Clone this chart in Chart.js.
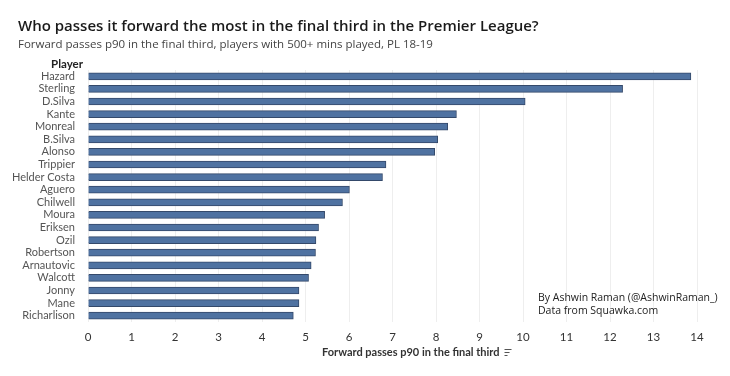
<!DOCTYPE html>
<html>
<head>
    <title>Forward passes p90</title>
    <script src="https://cdn.jsdelivr.net/npm/chart.js"></script>
    <style>
        body { margin: 0; background: #fff; }
        #wrap { width: 730px; height: 376px; }
    </style>
</head>
<body>
    <div id="wrap"><canvas id="myChart"></canvas></div>
    <script>
        const players = ['Hazard', 'Sterling', 'D.Silva', 'Kante', 'Monreal', 'B.Silva', 'Alonso', 'Trippier',
            'Helder Costa', 'Aguero', 'Chilwell', 'Moura', 'Eriksen', 'Ozil', 'Robertson', 'Arnautovic',
            'Walcott', 'Jonny', 'Mane', 'Richarlison'];
        const passesP90 = [13.86, 12.29, 10.05, 8.47, 8.27, 8.04, 7.97, 6.85,
            6.77, 6.01, 5.85, 5.44, 5.30, 5.24, 5.23, 5.13,
            5.07, 4.85, 4.85, 4.72];
        const xTicks = [0, 1, 2, 3, 4, 5, 6, 7, 8, 9, 10, 11, 12, 13, 14];

        const titleText = 'Who passes it forward the most in the final third in the Premier League?';
        const subtitleText = 'Forward passes p90 in the final third, players with 500+ mins played, PL 18-19';
        const axisTitle = 'Forward passes p90 in the final third';
        const credits = ['By Ashwin Raman (@AshwinRaman_)', 'Data from Squawka.com'];

        // titles, "Player" header, axis title with sort icon, credits
        const textPlugin = {
            id: 'texts',
            afterDraw(chart) {
                const ctx = chart.ctx;
                const area = chart.chartArea;
                ctx.save();
                ctx.textBaseline = 'middle';
                ctx.textAlign = 'left';
                ctx.fillStyle = '#1a1a1a';
                ctx.font = '600 15px "Open Sans"';
                ctx.fillText(titleText, 18, 27);
                ctx.fillStyle = '#444';
                ctx.font = '11.5px "Open Sans"';
                ctx.fillText(subtitleText, 18, 45);

                ctx.textAlign = 'right';
                ctx.fillStyle = '#222';
                ctx.font = 'bold 11.5px Lato';
                ctx.fillText('Player', area.left - 5, 64);

                ctx.textAlign = 'left';
                ctx.font = 'bold 11px Lato';
                ctx.fillStyle = '#333';
                const w = ctx.measureText(axisTitle).width;
                const x0 = 322;
                ctx.fillText(axisTitle, x0, 352);
                // sort icon
                ctx.strokeStyle = '#555';
                ctx.lineWidth = 1;
                const ix = x0 + w + 5;
                [[7, 349], [5, 352], [3, 355]].forEach(([len, y]) => {
                    ctx.beginPath();
                    ctx.moveTo(ix, y + 0.5);
                    ctx.lineTo(ix + len, y + 0.5);
                    ctx.stroke();
                });

                ctx.fillStyle = '#222';
                ctx.font = '10.5px "Open Sans"';
                ctx.fillText(credits[0], 538, 298);
                ctx.fillText(credits[1], 538, 311);
                ctx.restore();
            }
        };

        const data = {
            labels: players,
            datasets: [{
                label: 'Forward passes p90',
                data: passesP90,
                backgroundColor: '#4f72a1',
                borderColor: '#34496a',
                borderWidth: 1,
                barThickness: 7
            }]
        };

        const config = {
            type: 'bar',
            data: data,
            options: {
                indexAxis: 'y',
                responsive: true,
                maintainAspectRatio: false,
                animation: false,
                layout: { padding: { top: 70, right: 33, left: 0, bottom: 0 } },
                plugins: {
                    legend: { display: false },
                    tooltip: { enabled: false }
                },
                scales: {
                    x: {
                        min: 0,
                        max: 14,
                        afterBuildTicks: (scale) => { scale.ticks = xTicks.map(v => ({ value: v })); },
                        afterFit: (scale) => { scale.height = 54; },
                        grid: { color: '#eeeeee', drawTicks: false },
                        border: { display: false },
                        ticks: {
                            padding: 8,
                            color: '#333',
                            font: { family: 'Lato', size: 11.5 },
                            maxRotation: 0
                        }
                    },
                    y: {
                        afterFit: (scale) => { scale.width = 88; },
                        grid: { display: false },
                        border: { display: false },
                        ticks: {
                            padding: 5,
                            color: '#555',
                            font: { family: 'Lato', size: 11 },
                            autoSkip: false
                        }
                    }
                }
            },
            plugins: [textPlugin]
        };

        new Chart(document.getElementById('myChart'), config);
    </script>
</body>
</html>
